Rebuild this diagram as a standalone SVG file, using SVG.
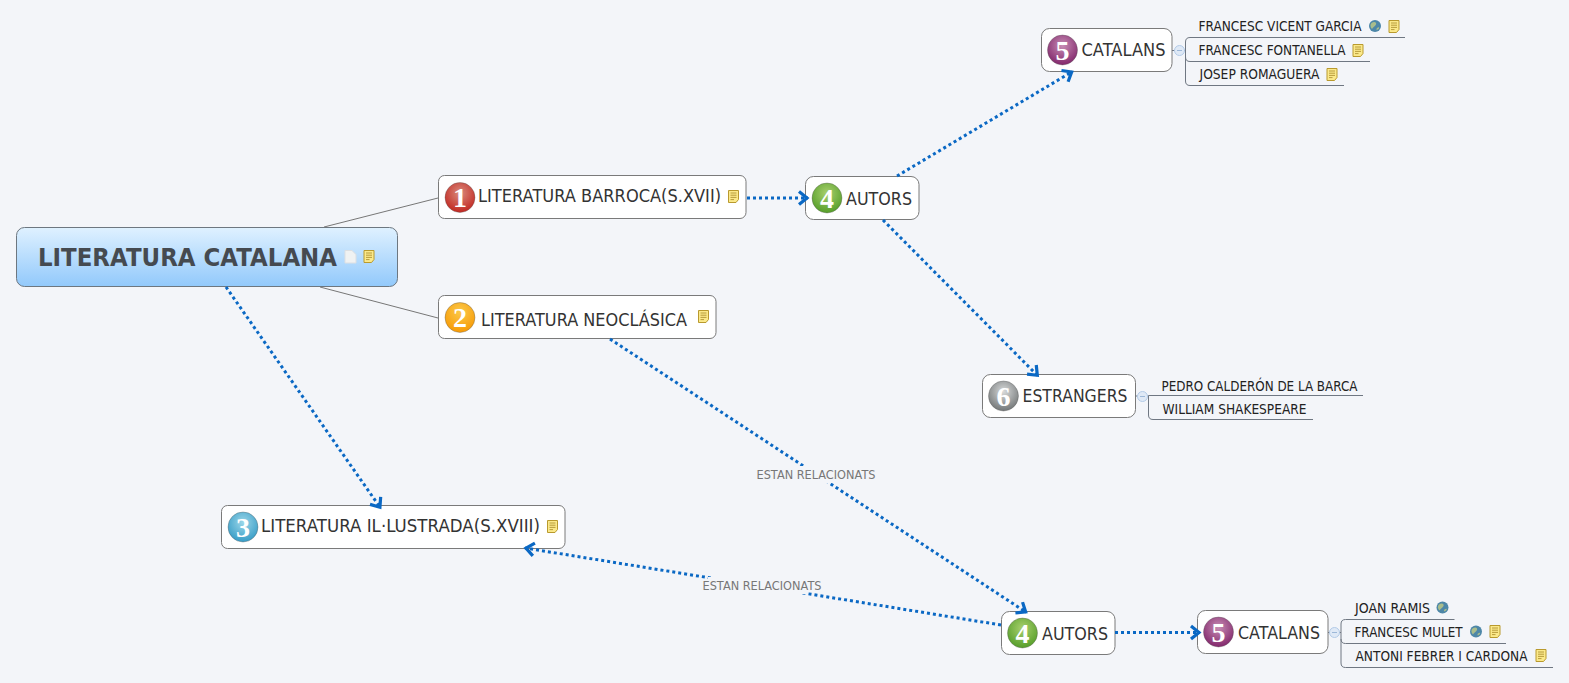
<svg xmlns="http://www.w3.org/2000/svg" width="1569" height="683" viewBox="0 0 1569 683">
<style>
text{font-family:"DejaVu Sans","Noto Sans",sans-serif;fill:#333}
.t{font-size:18px}
.s{font-size:13.5px;fill:#222}
.l{font-size:12px;fill:#777}
.n{font-family:"Liberation Serif",serif;font-weight:bold;font-size:28px;fill:#fff;text-anchor:middle}
.box{fill:#fff;stroke:#7a7a7a;stroke-width:1}
.thin{fill:none;stroke:#777;stroke-width:1}
.sub{fill:none;stroke:#6f7782;stroke-width:1}
.dot{fill:none;stroke:#0a68c4;stroke-width:3;stroke-dasharray:3 3;marker-end:url(#arr)}
.ring{stroke:#555;stroke-opacity:.35;stroke-width:1}
.col{fill:#dfe9f6;stroke:#b3cbe8;stroke-width:1}
.minus{stroke:#9db8d8;stroke-width:1}
</style>
<defs>
<marker id="arr" markerUnits="userSpaceOnUse" markerWidth="20" markerHeight="20" refX="15" refY="10" orient="auto"><path d="M6 3.500L14 10L6 16.500" fill="none" stroke="#0a68c4" stroke-width="3.200"/></marker>
<linearGradient id="rootg" x1="0" y1="0" x2="0" y2="1"><stop offset="0" stop-color="#dff1ff"/><stop offset="1" stop-color="#92c9fb"/></linearGradient>
<radialGradient id="g1" cx=".5" cy=".35" r=".7"><stop offset="0" stop-color="#d98b7d"/><stop offset="1" stop-color="#c0201a"/></radialGradient>
<radialGradient id="g2" cx=".5" cy=".3" r=".7"><stop offset="0" stop-color="#fbc94a"/><stop offset="1" stop-color="#f79a05"/></radialGradient>
<radialGradient id="g3" cx=".5" cy=".35" r=".7"><stop offset="0" stop-color="#9bd6e8"/><stop offset="1" stop-color="#2f98c4"/></radialGradient>
<radialGradient id="g4" cx=".5" cy=".35" r=".7"><stop offset="0" stop-color="#a9d06e"/><stop offset="1" stop-color="#4f9a24"/></radialGradient>
<radialGradient id="g5" cx=".5" cy=".35" r=".7"><stop offset="0" stop-color="#c78db4"/><stop offset="1" stop-color="#7d1f66"/></radialGradient>
<radialGradient id="g6" cx=".5" cy=".35" r=".7"><stop offset="0" stop-color="#d8dada"/><stop offset="1" stop-color="#6b6f70"/></radialGradient>
<g id="note"><path d="M0.500 .5H10.500V9.500L8 12.500H.5Z" fill="#fbe98a" stroke="#b99a2e"/><path d="M2.500 3H8.500M2.500 5.200H8.500M2.500 7.400H8.500M2.500 9.600H6" stroke="#a8892a" stroke-width=".8"/></g>
<g id="globe"><circle cx="0" cy="0" r="6" fill="#4d87a8"/><path d="M-3.500-3C-1-5 2-4 1-1.500C0 .5-2 1-3 3C-5 1-5-1.500-3.500-3ZM2 2C3.500 1 4.500 1 4 2.500C3 4 1 4.500 1.500 3Z" fill="#a9bd8c"/></g>
</defs>
<rect width="1569" height="683" fill="#f3f5f9"/>
<g id="root">
<rect x="16.500" y="227.500" width="381" height="59" rx="8" fill="url(#rootg)" stroke="#6d7780"/>
<text x="38" y="266" font-size="24" font-weight="bold" style="fill:#454a50" textLength="299" lengthAdjust="spacingAndGlyphs">LITERATURA CATALANA</text>
<path d="M345 250.500H352L356 254.500V263H345Z" fill="#f0f2f2" stroke="#dcdfe2"/>
<use href="#note" x="363.500" y="250"/>
</g>
<g id="n1">
<rect class="box" x="438.500" y="175.500" width="307.500" height="43" rx="6"/>
<circle class="ring" cx="460" cy="197.500" r="15" fill="url(#g1)"/><text class="n" x="460" y="207">1</text>
<text class="t" x="478" y="202" textLength="243" lengthAdjust="spacingAndGlyphs">LITERATURA BARROCA(S.XVII)</text>
<use href="#note" x="728" y="190"/>
</g>
<g id="n2">
<rect class="box" x="438.500" y="295.500" width="277.500" height="43" rx="6"/>
<circle class="ring" cx="460" cy="317.500" r="15" fill="url(#g2)"/><text class="n" x="460" y="327">2</text>
<text class="t" x="481" y="325.500" textLength="206" lengthAdjust="spacingAndGlyphs">LITERATURA NEOCLÁSICA</text>
<use href="#note" x="698" y="310"/>
</g>
<g id="n3">
<rect class="box" x="221.500" y="505.500" width="343.500" height="43" rx="6"/>
<circle class="ring" cx="243" cy="527" r="15" fill="url(#g3)"/><text class="n" x="243" y="536.500">3</text>
<text class="t" x="261" y="532" textLength="279" lengthAdjust="spacingAndGlyphs">LITERATURA IL·LUSTRADA(S.XVIII)</text>
<use href="#note" x="547" y="520"/>
</g>
<g id="n4a">
<rect class="box" x="805.500" y="176.500" width="113.500" height="43" rx="8"/>
<circle class="ring" cx="827" cy="198" r="15" fill="url(#g4)"/><text class="n" x="827" y="207.500">4</text>
<text class="t" x="846" y="204.500" textLength="66" lengthAdjust="spacingAndGlyphs">AUTORS</text>
</g>
<g id="n5a">
<rect class="box" x="1041.500" y="28.500" width="130.500" height="43" rx="8"/>
<circle class="ring" cx="1062.500" cy="50" r="15" fill="url(#g5)"/><text class="n" x="1062.500" y="59.500">5</text>
<text class="t" x="1081.500" y="56" textLength="84" lengthAdjust="spacingAndGlyphs">CATALANS</text>
<path class="sub" d="M1172 50.500H1185.500"/>
<circle class="col" cx="1179.500" cy="50.500" r="5"/><path class="minus" d="M1177 50.500H1182"/>
</g>
<g id="n6">
<rect class="box" x="982.500" y="374.500" width="153" height="43" rx="8"/>
<circle class="ring" cx="1003.500" cy="396" r="15" fill="url(#g6)"/><text class="n" x="1003.500" y="405.500">6</text>
<text class="t" x="1022.500" y="402" textLength="105" lengthAdjust="spacingAndGlyphs">ESTRANGERS</text>
<path class="sub" d="M1135.500 396H1148.500"/>
<circle class="col" cx="1142.500" cy="396.500" r="5"/><path class="minus" d="M1140 396.500H1145"/>
</g>
<g id="n4b">
<rect class="box" x="1001.500" y="611.500" width="113.500" height="43" rx="8"/>
<circle class="ring" cx="1022.500" cy="633" r="15" fill="url(#g4)"/><text class="n" x="1022.500" y="642.500">4</text>
<text class="t" x="1042" y="639.500" textLength="66" lengthAdjust="spacingAndGlyphs">AUTORS</text>
</g>
<g id="n5b">
<rect class="box" x="1197.500" y="610.500" width="130.500" height="43" rx="8"/>
<circle class="ring" cx="1218.500" cy="632" r="15" fill="url(#g5)"/><text class="n" x="1218.500" y="641.500">5</text>
<text class="t" x="1238" y="638.500" textLength="82" lengthAdjust="spacingAndGlyphs">CATALANS</text>
<path class="sub" d="M1328 632.500H1341"/>
<circle class="col" cx="1334.500" cy="632.500" r="5"/><path class="minus" d="M1332 632.500H1337"/>
</g>
<g id="sub-catalans-a">
<path class="sub" d="M1405 37.500H1190Q1185.500 37.500 1185.500 42V81Q1185.500 85.500 1190 85.500H1344M1190 61.500H1370M1185.500 57Q1185.500 61.500 1190 61.500"/>
<text class="s" x="1198.500" y="31" textLength="163" lengthAdjust="spacingAndGlyphs">FRANCESC VICENT GARCIA</text>
<use href="#globe" x="1375" y="26"/><use href="#note" x="1388.500" y="20"/>
<text class="s" x="1198.500" y="55" textLength="147" lengthAdjust="spacingAndGlyphs">FRANCESC FONTANELLA</text>
<use href="#note" x="1352.500" y="44"/>
<text class="s" x="1199.500" y="79" textLength="120" lengthAdjust="spacingAndGlyphs">JOSEP ROMAGUERA</text>
<use href="#note" x="1326.500" y="68"/>
</g>
<g id="sub-estrangers">
<path class="sub" d="M1363 395.500H1148.500V415Q1148.500 419.500 1153 419.500H1313"/>
<text class="s" x="1161.500" y="391" textLength="196" lengthAdjust="spacingAndGlyphs">PEDRO CALDERÓN DE LA BARCA</text>
<text class="s" x="1162.500" y="413.500" textLength="144" lengthAdjust="spacingAndGlyphs">WILLIAM SHAKESPEARE</text>
</g>
<g id="sub-catalans-b">
<path class="sub" d="M1454.500 619.500H1345.500Q1341 619.500 1341 624V663Q1341 667.500 1345.500 667.500H1553M1345.500 643.500H1506M1341 639Q1341 643.500 1345.500 643.500"/>
<text class="s" x="1355" y="613" textLength="75" lengthAdjust="spacingAndGlyphs">JOAN RAMIS</text>
<use href="#globe" x="1442.500" y="607.500"/>
<text class="s" x="1354.500" y="637" textLength="108" lengthAdjust="spacingAndGlyphs">FRANCESC MULET</text>
<use href="#globe" x="1476" y="631.500"/><use href="#note" x="1489.500" y="625"/>
<text class="s" x="1355.500" y="661" textLength="172" lengthAdjust="spacingAndGlyphs">ANTONI FEBRER I CARDONA</text>
<use href="#note" x="1535.500" y="649"/>
</g>
<g id="connectors">
<path class="thin" d="M324 227L438 198M320 287L438 318"/>
<path class="dot" d="M747 198H808"/>
<path class="dot" d="M897 176L1072.500 71.500"/>
<path class="dot" d="M883 220L1038 376"/>
<path class="dot" d="M226 287L380.500 508"/>
<path class="dot" d="M610 339L1026.500 612.500"/>
<path class="dot" d="M1001 625L525 548"/>
<path class="dot" d="M1115 632.500H1200"/>
<rect x="754" y="466" width="124" height="17" fill="#f3f5f9"/>
<rect x="708" y="577" width="98" height="17" fill="#f3f5f9"/>
<text class="l" x="756.500" y="479" textLength="119" lengthAdjust="spacingAndGlyphs">ESTAN RELACIONATS</text>
<text class="l" x="702.500" y="590" textLength="119" lengthAdjust="spacingAndGlyphs">ESTAN RELACIONATS</text>
</g>
</svg>
